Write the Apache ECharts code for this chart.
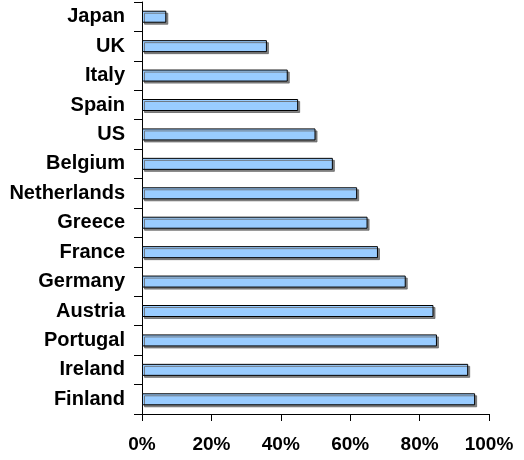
<!DOCTYPE html>
<html><head><meta charset="utf-8">
<script src="https://cdn.jsdelivr.net/npm/echarts@6/dist/echarts.min.js"></script>
<style>html,body{margin:0;padding:0;background:#fff}#c{width:524px;height:460px}</style>
</head><body><div id="c"></div>
<script>
const categories = ["Japan","UK","Italy","Spain","US","Belgium","Netherlands","Greece","France","Germany","Austria","Portugal","Ireland","Finland"];
const values = [7,36,42,45,50,55,62,65,68,76,84,85,94,96];
const xTicks = [0,20,40,60,80,100];

const chart = echarts.init(document.getElementById('c'), null, {renderer:'canvas'});
chart.setOption({
  animation:false,
  backgroundColor:'#ffffff',
  grid:{left:142,right:35,top:2,bottom:46,containLabel:false},
  xAxis:{type:'value',min:xTicks[0],max:xTicks[xTicks.length-1],interval:20,
    axisLine:{show:true,lineStyle:{color:'#000',width:1}},
    axisTick:{show:true,length:7,lineStyle:{color:'#000'}},
    splitLine:{show:false},
    axisLabel:{formatter:v=>v+'%',fontFamily:'Liberation Sans, Arial',fontWeight:'bold',fontSize:19,color:'#000',margin:21}},
  yAxis:{type:'category',data:categories,inverse:true,
    axisLine:{show:true,lineStyle:{color:'#000',width:1}},
    axisTick:{show:true,length:8,lineStyle:{color:'#000'}},
    axisLabel:{fontFamily:'Liberation Sans, Arial',fontWeight:'bold',fontSize:20,color:'#000',margin:17,padding:[3,0,0,0]}},
  series:[{type:'bar',data:values,barWidth:12,
    itemStyle:{color:'#99ccff',borderColor:'#000',borderWidth:1,shadowColor:'rgba(100,100,100,0.8)',shadowOffsetX:2,shadowOffsetY:2,shadowBlur:0}}]
});
</script></body></html>
